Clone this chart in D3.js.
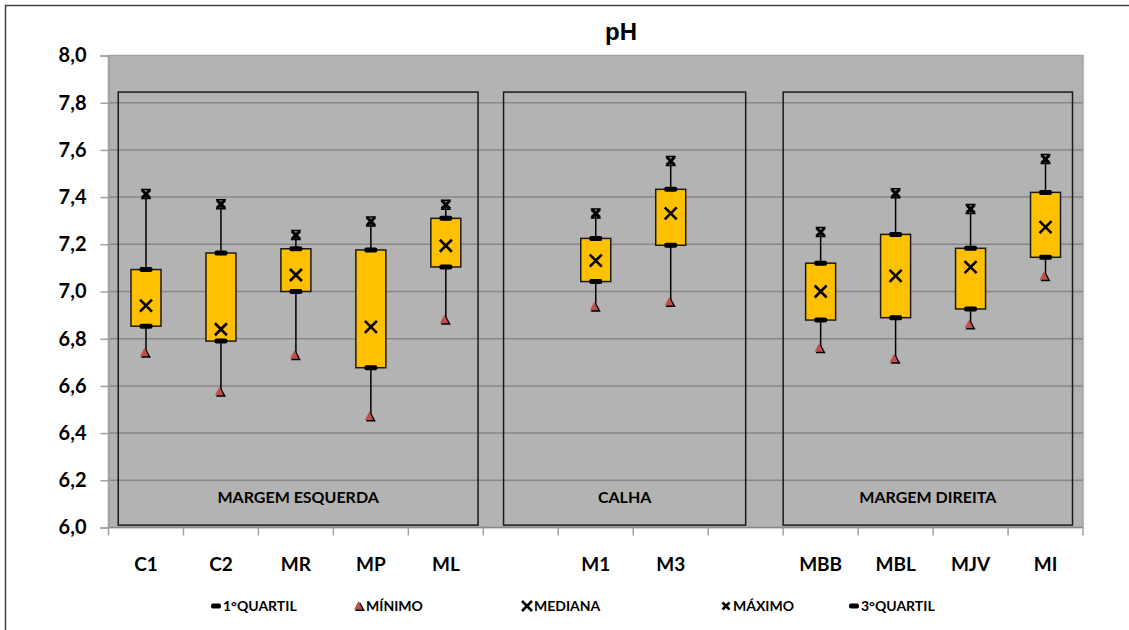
<!DOCTYPE html>
<html>
<head>
<meta charset="utf-8">
<script src="https://cdn.jsdelivr.net/npm/d3@7"></script>
<style>
  html, body { margin: 0; padding: 0; background: #fff; }
  svg { display: block; }
  .lbl { font-family: Lato, "Open Sans", sans-serif; font-weight: bold; fill: #000; }
</style>
</head>
<body>
<div id="chart"></div>
<script>
// categories (blank slots separate the three groups)
const categories = ["C1", "C2", "MR", "MP", "ML", "", "M1", "M3", "", "MBB", "MBL", "MJV", "MI"];
const minimo   = [6.74, 6.575, 6.73, 6.47, 6.88, null, 6.935, 6.955, null, 6.76, 6.715, 6.86, 7.065];
const quartil1 = [6.853, 6.79, 7.0, 6.677, 7.104, null, 7.042, 7.196, null, 6.879, 6.889, 6.926, 7.145];
const mediana  = [6.94, 6.84, 7.07, 6.85, 7.194, null, 7.131, 7.331, null, 7.0, 7.066, 7.103, 7.273];
const quartil3 = [7.093, 7.163, 7.181, 7.176, 7.31, null, 7.225, 7.433, null, 7.12, 7.242, 7.183, 7.42];
const maximo   = [7.413, 7.37, 7.239, 7.297, 7.368, null, 7.331, 7.553, null, 7.252, 7.416, 7.35, 7.561];
const groupNames = ["MARGEM ESQUERDA", "CALHA", "MARGEM DIREITA"];
const yTicks = [6.0, 6.2, 6.4, 6.6, 6.8, 7.0, 7.2, 7.4, 7.6, 7.8, 8.0];
const legendLabels = ["1°QUARTIL", "MÍNIMO", "MEDIANA", "MÁXIMO", "3°QUARTIL"];

const W = 1129, H = 630;
const plot = { left: 108.5, right: 1083, top: 55.5, bottom: 527.5 };

const svg = d3.select("#chart").append("svg").attr("width", W).attr("height", H);

// outer chart frame (runs off the right/bottom edge)
svg.append("rect").attr("x", 5.5).attr("y", 5.5).attr("width", 1200).attr("height", 700)
  .attr("fill", "none").attr("stroke", "#404040").attr("stroke-width", 1.5);

const x = d3.scaleBand().domain(d3.range(categories.length)).range([plot.left, plot.right]).padding(0);
const y = d3.scaleLinear().domain([6, 8]).range([plot.bottom, plot.top]);
const cx = i => x(i) + x.bandwidth() / 2;
// fractional slot position -> px (for the group frames)
const xs = d3.scaleLinear().domain([0, categories.length]).range([plot.left, plot.right]);

// plot background
svg.append("rect").attr("x", plot.left).attr("y", plot.top)
  .attr("width", plot.right - plot.left).attr("height", plot.bottom - plot.top)
  .attr("fill", "#b3b3b3").attr("stroke", "#a3a3a3").attr("stroke-width", 1.5);

// gridlines
svg.append("g").selectAll("line").data(yTicks.slice(0, -1)).join("line")
  .attr("x1", plot.left).attr("x2", plot.right)
  .attr("y1", d => y(d)).attr("y2", d => y(d))
  .attr("stroke", "#878787").attr("stroke-width", 1.5);

// y axis
svg.append("g").attr("transform", `translate(${plot.left},0)`)
  .call(d3.axisLeft(y).tickValues(yTicks).tickSize(8).tickPadding(14)
    .tickFormat(d => d3.format(".1f")(d).replace(".", ",")))
  .call(g => g.select(".domain").attr("stroke", "#a0a0a0").attr("stroke-width", 1.5))
  .call(g => g.selectAll(".tick line").attr("stroke", "#a0a0a0").attr("stroke-width", 1.5))
  .call(g => g.selectAll(".tick text").attr("class", "lbl").style("font-size", "20px"));

// x axis: labels centred in slots, ticks on slot boundaries
svg.append("g").attr("transform", `translate(0,${plot.bottom})`)
  .call(d3.axisBottom(x).tickSize(0).tickPadding(30).tickFormat(i => categories[i]))
  .call(g => g.select(".domain").remove())
  .call(g => g.selectAll(".tick text").attr("class", "lbl").style("font-size", "19px"));
svg.append("g").selectAll("line").data(d3.range(categories.length + 1)).join("line")
  .attr("x1", i => xs(i)).attr("x2", i => xs(i))
  .attr("y1", plot.bottom).attr("y2", plot.bottom + 8)
  .attr("stroke", "#a0a0a0").attr("stroke-width", 1.5);

// group frames (drawn shapes in the original)
const frames = [[0.13, 4.93], [5.27, 8.5], [9.0, 12.86]];
const frameTop = 7.845, frameBottom = 6.01;
const fg = svg.append("g");
frames.forEach((f, k) => {
  fg.append("rect").attr("x", xs(f[0])).attr("y", y(frameTop))
    .attr("width", xs(f[1]) - xs(f[0])).attr("height", y(frameBottom) - y(frameTop))
    .attr("fill", "none").attr("stroke", "#1a1a1a").attr("stroke-width", 1.5);
  fg.append("text").attr("class", "lbl").style("font-size", "16px")
    .attr("x", (xs(f[0]) + xs(f[1])) / 2).attr("y", 503).attr("text-anchor", "middle")
    .text(groupNames[k]);
});

// box plots
const idx = d3.range(categories.length).filter(i => mediana[i] != null);
const boxW = 30;
const g = svg.append("g");

g.selectAll(".whisker").data(idx).join("line")
  .attr("x1", cx).attr("x2", cx)
  .attr("y1", i => y(minimo[i])).attr("y2", i => y(maximo[i]))
  .attr("stroke", "#000").attr("stroke-width", 1.5);

g.selectAll(".box").data(idx).join("rect")
  .attr("x", i => cx(i) - boxW / 2).attr("width", boxW)
  .attr("y", i => y(quartil3[i])).attr("height", i => y(quartil1[i]) - y(quartil3[i]))
  .attr("fill", "#ffc000").attr("stroke", "#1a1a1a").attr("stroke-width", 1.5);

function quartilMark(sel, px, py) {
  sel.append("rect").attr("x", px - 6.5).attr("y", py - 2.5).attr("width", 13).attr("height", 5)
    .attr("rx", 2).attr("fill", "#000");
}
function minMark(sel, px, py) {
  sel.append("path").attr("d", `M${px - 4},${py + 5} L${px + 1},${py - 4} L${px + 6},${py + 5} Z`)
    .attr("fill", "#000");
  sel.append("path").attr("d", `M${px - 5},${py + 3.5} L${px - 0.5},${py - 5} L${px + 3.5},${py + 3.5} Z`)
    .attr("fill", "#c0504d");
}
function medMark(sel, px, py, r) {
  sel.append("path").attr("d", `M${px - r},${py - r} L${px + r},${py + r} M${px - r},${py + r} L${px + r},${py - r}`)
    .attr("stroke", "#000").attr("stroke-width", 2.6).attr("fill", "none");
}
function maxMark(sel, px, py) {
  sel.append("path").attr("d", `M${px - 4},${py - 4} L${px + 4},${py + 4} M${px - 4},${py + 4} L${px + 4},${py - 4}`)
    .attr("stroke", "#000").attr("stroke-width", 3).attr("fill", "none");
  sel.append("path").attr("d", `M${px - 5},${py - 4.5} H${px + 5} M${px - 5},${py + 4.5} H${px + 5}`)
    .attr("stroke", "#000").attr("stroke-width", 1.5);
}

idx.forEach(i => {
  const px = cx(i);
  quartilMark(g, px, y(quartil1[i]));
  quartilMark(g, px, y(quartil3[i]));
  minMark(g, px - 1, y(minimo[i]));
  medMark(g, px, y(mediana[i]), 6);
  maxMark(g, px, y(maximo[i]));
});

// title
svg.append("text").attr("x", 621).attr("y", 40).attr("text-anchor", "middle")
  .style("font-family", "'Liberation Sans', Arial, sans-serif").style("font-weight", "bold")
  .style("font-size", "24px").text("pH");

// legend
const legX = [211, 354, 522, 721, 849];
const legY = 606;
const lg = svg.append("g");
legendLabels.forEach((t, k) => {
  const mx = legX[k] + 5;
  if (k === 0 || k === 4) lg.append("rect").attr("x", mx - 5).attr("y", legY - 2.5).attr("width", 10)
    .attr("height", 5).attr("rx", 2).attr("fill", "#000");
  if (k === 1) minMark(lg, mx, legY);
  if (k === 2) medMark(lg, mx, legY, 5);
  if (k === 3) lg.append("path").attr("d", `M${mx - 3.5},${legY - 3.5} L${mx + 3.5},${legY + 3.5} M${mx - 3.5},${legY + 3.5} L${mx + 3.5},${legY - 3.5}`)
    .attr("stroke", "#000").attr("stroke-width", 2.6);
  lg.append("text").attr("class", "lbl").style("font-size", "14px")
    .attr("x", legX[k] + 12).attr("y", legY + 5).text(t);
});
</script>
</body>
</html>
